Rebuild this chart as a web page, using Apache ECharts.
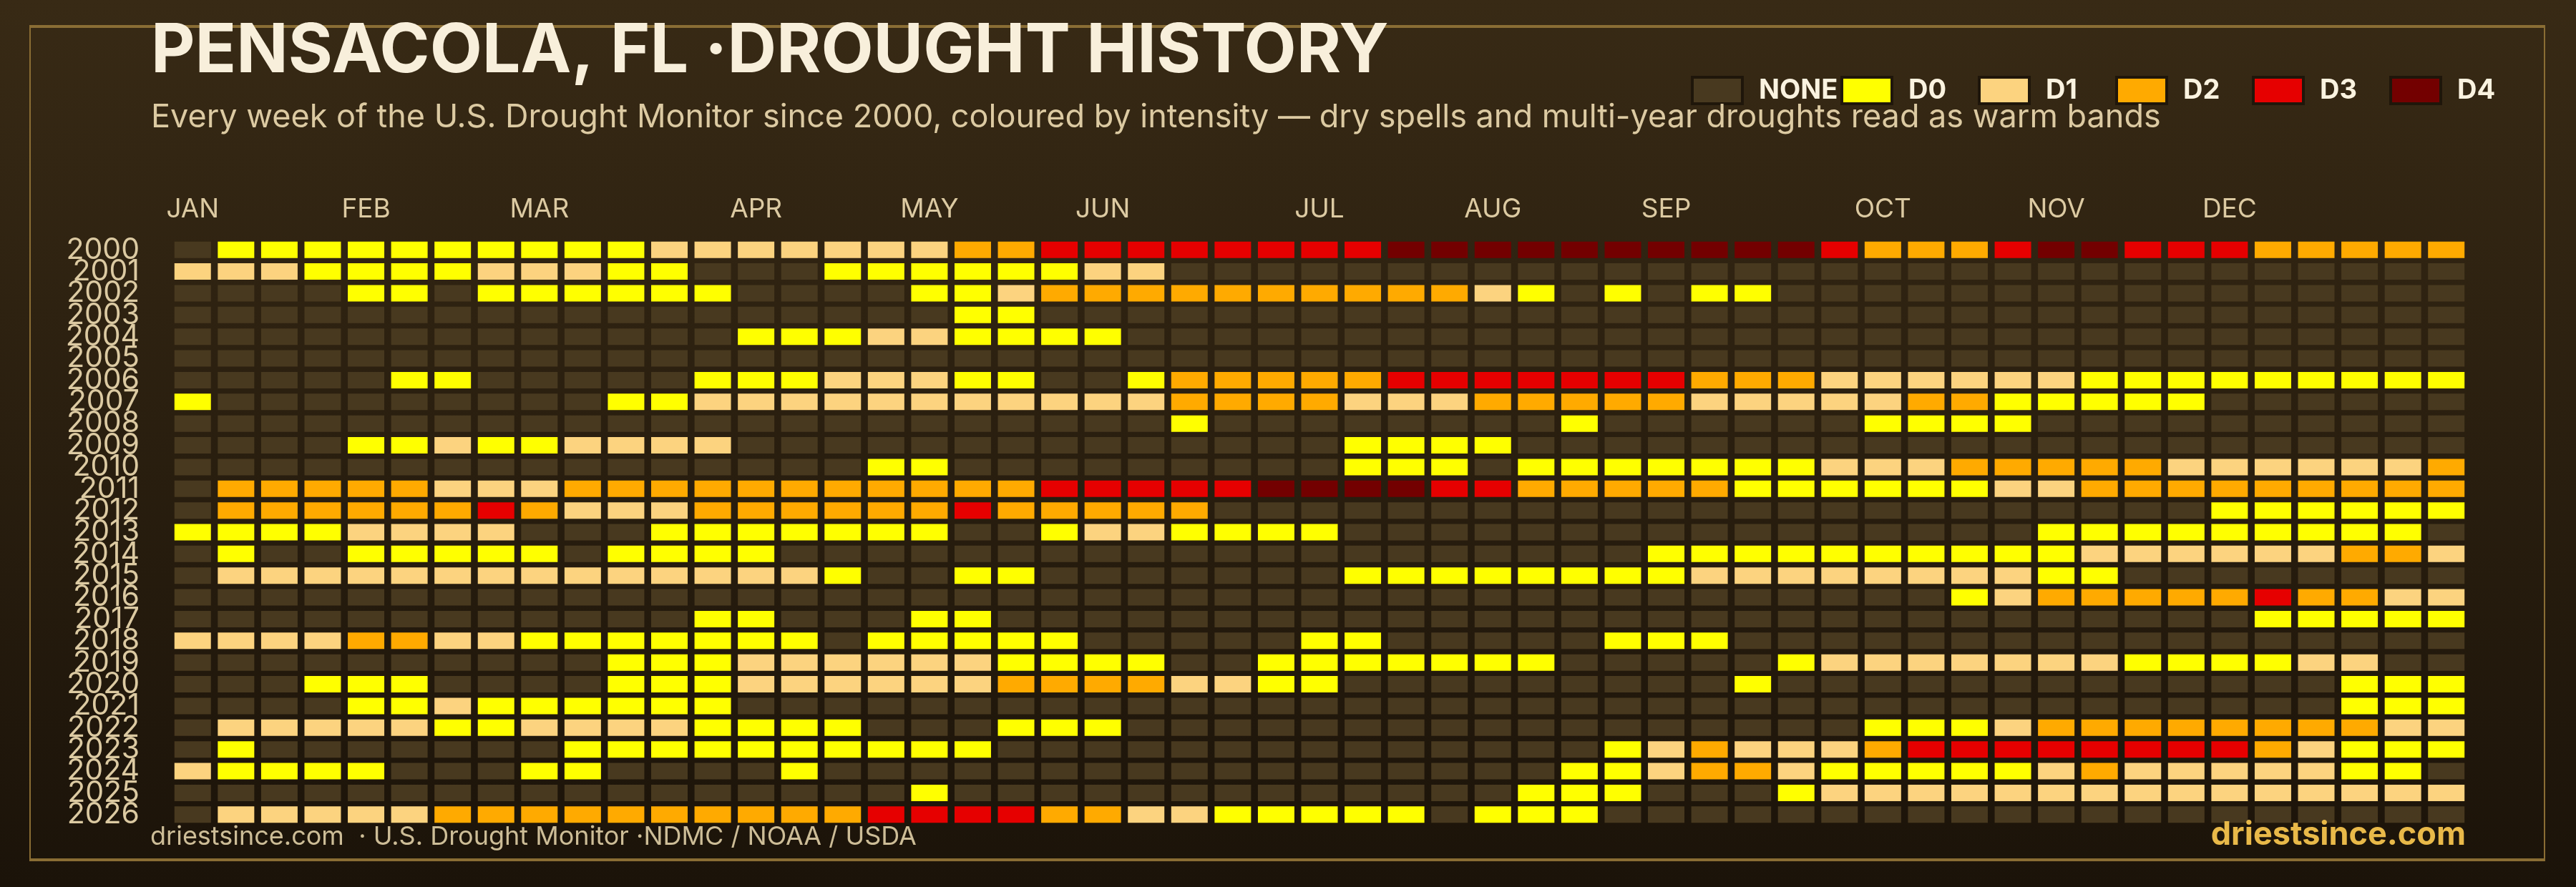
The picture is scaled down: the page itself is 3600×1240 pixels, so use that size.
<!DOCTYPE html>
<html><head><meta charset="utf-8">
<script src="https://cdn.jsdelivr.net/npm/echarts@6/dist/echarts.min.js"></script>
<style>html,body{margin:0;padding:0;background:#1c1309}#c{width:3600px;height:1240px}</style>
</head><body><div id="c"></div><script>
// ---- data ----
const years = ['2000','2001','2002','2003','2004','2005','2006','2007','2008','2009','2010','2011','2012','2013','2014','2015','2016','2017','2018','2019','2020','2021','2022','2023','2024','2025','2026'];
const monthLabels = ['JAN','FEB','MAR','APR','MAY','JUN','JUL','AUG','SEP','OCT','NOV','DEC'];
const monthWeeks = [0,4,8,13,17,21,26,30,34,39,43,47];
const weekCount = 53;
const levelNames = ['NONE','D0','D1','D2','D3','D4'];
const levelCodes = ['.','0','1','2','3','4'];
const levelColors = ['#48391f','#ffff00','#fcd37f','#ffaa00','#e60000','#730000'];
// one string per year, one character per week ('.' = none, '0'..'4' = D0..D4); spaces are only separators
const weekRows = [
  ". 0000000000 1111111 22 33333333 4444444444 3 222 3 44 333 22222",
  "111 0000 111 00 ... 000000 11 .......... .......... ..........",
  ".... 00 . 000000 ... . 00 1 2222222222 1 0 . 0 . 00 .......... ......",
  ".......... ........ 00 .......... .......... .......... ...",
  ".......... ... 000 11 0000 .......... .......... .......... .",
  ".......... .......... .......... .......... .......... ...",
  "..... 00 ..... 000 111 00 .. 0 22222 3333333 222 111111 000000000",
  "0 ......... 00 11111111111 2222 111 22222 11111 22 00000 ......",
  ".......... .......... ... 0 ........ 0 ...... 0000 ..........",
  ".... 00 1 00 1111 .......... .... 0000 .......... .......... ..",
  ".......... ...... 00 ......... 000 . 0000000 111 22222 111111 2",
  ". 22222 111 22222222222 33333 4444 33 22222 000000 11 222222222",
  ". 222222 3 2 111 222222 3 22222 .......... .......... ... 000000",
  "0000 1111 ... 0000000 .. 0 11 0000 .......... ...... 000000000 .",
  ". 0 .. 00000 . 0000 .......... .......... 0000000000 111111 22 1",
  ". 11111111111111 0 .. 00 ....... 00000000 11111111 00 ........",
  ".......... .......... .......... .......... . 0 1 22222 3 22 11",
  ".......... .. 00 ... 00 .......... .......... ......... 00000",
  "1111 22 11 0000000 . 00000 ..... 00 ..... 000 .......... .......",
  ".......... 000 111111 0000 .. 0000000 ..... 0 1111111 0000 11 ..",
  "... 000 .... 000 111111 2222 11 00 ......... 0 .......... ... 000",
  ".... 00 1 000000 .......... .......... .......... ....... 000",
  ". 11111 00 1111 0000 ... 000 .......... ....... 000 1 22222222 11",
  ". 0 ....... 0000000000 .......... .... 0 1 2 111 2 33333333 2 1 000",
  "1 0000 ... 00 .... 0 .......... ....... 00 1 22 1 00000 1 2 11111 00 .",
  ".......... ....... 0 .......... ... 000 ... 0 111111111111111",
  ". 11111 2222222222 3333 22 11 00000 . 000 .......... .........."
];
const legendLefts = [2363,2572,2764,2956,3147,3339];

// ---- build ----
const xCats = [];
for (let i = 0; i < weekCount; i++) {
  const k = monthWeeks.indexOf(i);
  xCats.push(k >= 0 ? monthLabels[k] : '');
}
const seriesData = levelNames.map(() => []);
weekRows.forEach((row, r) => {
  const s = row.replace(/ /g, '');
  for (let c = 0; c < weekCount && c < s.length; c++) {
    const lv = levelCodes.indexOf(s[c]);
    if (lv >= 0) seriesData[lv].push([c, r]);
  }
});

const FONT = 'Inter, "Open Sans", sans-serif';
const chart = echarts.init(document.getElementById('c'), null, {renderer: 'canvas'});
chart.setOption({
  animation: false,
  backgroundColor: new echarts.graphic.LinearGradient(0, 0, 0, 1, [
    {offset: 0, color: '#382a15'}, {offset: 1, color: '#1b1309'}
  ]),
  grid: {left: 239, right: 151, top: 334, bottom: 86, containLabel: false},
  xAxis: {
    type: 'category', position: 'top', data: xCats,
    axisLine: {show: false}, axisTick: {show: false}, splitLine: {show: false},
    axisLabel: {interval: 0, margin: 23, color: '#dccaa2', fontSize: 37, fontFamily: FONT}
  },
  yAxis: {
    type: 'category', data: years, inverse: true,
    axisLine: {show: false}, axisTick: {show: false}, splitLine: {show: false},
    axisLabel: {interval: 0, margin: 44, color: '#dccaa2', fontSize: 41, fontFamily: FONT}
  },
  legend: levelNames.map((n, i) => ({
    data: [n], left: legendLefts[i], top: 106, padding: 0,
    icon: 'rect', itemWidth: 70, itemHeight: 37, selectedMode: false,
    itemStyle: {borderColor: '#1f160a', borderWidth: 4},
    textStyle: {color: '#fbf3e0', fontSize: 38, fontWeight: 'bold', fontFamily: FONT, padding: [0, 0, 0, 18]}
  })),
  series: levelNames.map((n, i) => ({
    name: n, type: 'scatter', symbol: 'rect', symbolSize: [51, 23],
    itemStyle: {color: levelColors[i], opacity: 1},
    emphasis: {disabled: true}, silent: true,
    data: seriesData[i]
  })),
  graphic: [
    {type: 'rect', silent: true, z: 0, shape: {x: 42, y: 37, width: 3514, height: 1166},
     style: {fill: 'none', stroke: '#8a6d34', lineWidth: 2}},
    {type: 'line', silent: true, z: 0, shape: {x1: 41, y1: 37, x2: 3557, y2: 37},
     style: {stroke: '#8a6d34', lineWidth: 4}},
    {type: 'line', silent: true, z: 0, shape: {x1: 41, y1: 1202, x2: 3557, y2: 1202},
     style: {stroke: '#8a6d34', lineWidth: 4}},
    {type: 'text', z: 10, x: 211, y: 72,
     style: {text: 'PENSACOLA, FL ·DROUGHT HISTORY', fontSize: 95, fontWeight: 'bold', fontFamily: FONT,
             fill: '#f8efdb', align: 'left', verticalAlign: 'middle'}},
    {type: 'text', z: 10, x: 211, y: 164,
     style: {text: 'Every week of the U.S. Drought Monitor since 2000, coloured by intensity — dry spells and multi-year droughts read as warm bands',
             fontSize: 45, fontFamily: FONT, fill: '#dccaa2', align: 'left', verticalAlign: 'middle'}},
    {type: 'text', z: 10, x: 210, y: 1170,
     style: {text: 'driestsince.com  · U.S. Drought Monitor ·NDMC / NOAA / USDA',
             fontSize: 36, fontFamily: FONT, fill: '#cdbd97', align: 'left', verticalAlign: 'middle'}},
    {type: 'text', z: 10, x: 3446, y: 1167,
     style: {text: 'driestsince.com', fontSize: 45, fontWeight: 'bold', fontFamily: FONT,
             fill: '#e9b949', align: 'right', verticalAlign: 'middle'}}
  ]
});
</script></body></html>
